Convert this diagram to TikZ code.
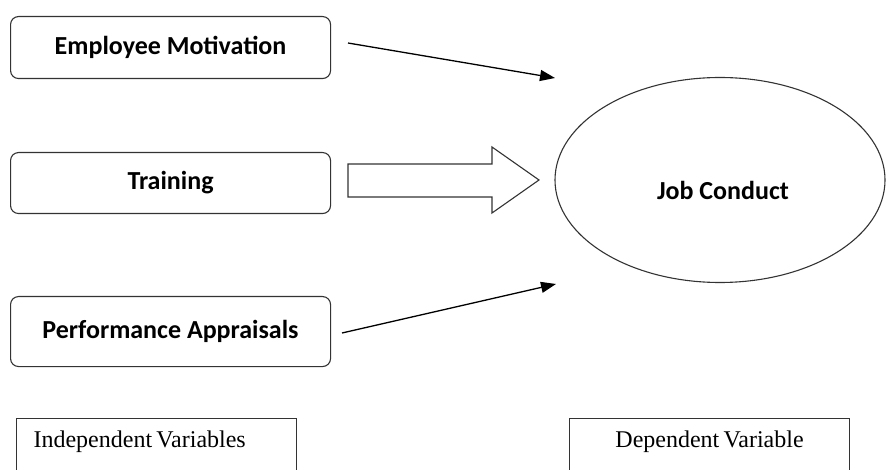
\documentclass[tikz,border=0pt]{standalone}
\usepackage{fontspec}
\setmainfont{Liberation Serif}
\newfontfamily\boxfont{Carlito}
\usetikzlibrary{arrows.meta,shapes.geometric}
\begin{document}
\begin{tikzpicture}[x=1pt,y=-1pt,
  linecol/.style={draw=black!80, line width=1.1pt},
  boxtext/.style={font=\boxfont\bfseries\fontsize{26}{30}\selectfont},
  varbox/.style={linecol, boxtext, rounded corners=8pt, minimum width=320pt,
    minimum height=62pt, inner sep=0pt, anchor=north west},
  legendbox/.style={linecol, anchor=north west, inner xsep=0pt, inner ysep=13pt,
    text height=16pt, text depth=45pt, text width=280pt,
    font=\fontsize{24}{28}\selectfont},
  link/.style={draw=black, line width=1.3pt,
    -{Triangle[length=15pt,width=11pt]}}]
  \useasboundingbox (0,0) rectangle (886,470);
  \clip (0,0) rectangle (886,470);

  % independent variables
  \node[varbox] (em) at (10,16) {Employee Motivation};
  \node[varbox, minimum height=61pt] (tr) at (10,152) {Training};
  \node[varbox, minimum height=70pt] (pa) at (10,296) {Performance Appraisals};

  % dependent variable
  \node[linecol, ellipse, minimum width=330pt, minimum height=205pt, inner sep=0pt]
    (jc) at (720,180) {};
  \node[boxtext] (jct) at (723,190) {Job Conduct};

  % thin arrows
  \coordinate (ems) at (348,43);
  \coordinate (eme) at (555,78);
  \coordinate (pas) at (342,333);
  \coordinate (pae) at (556,284);
  \draw[link] (ems) -- (eme);
  \draw[link] (pas) -- (pae);

  % block arrow from training
  \draw[linecol, line join=miter, fill=white]
    (348,164) -- (492,164) -- (492,147) -- (539,180) -- (492,213)
    -- (492,197) -- (348,197) -- cycle;

  % legend boxes
  \node[legendbox, align=left, inner xsep=17pt, text width=246pt]
    (iv) at (16,418) {\spaceskip=0.18em Independent Variables};
  \node[legendbox, align=center] (dv) at (569,418) {\spaceskip=0.18em Dependent Variable};
\end{tikzpicture}
\end{document}
